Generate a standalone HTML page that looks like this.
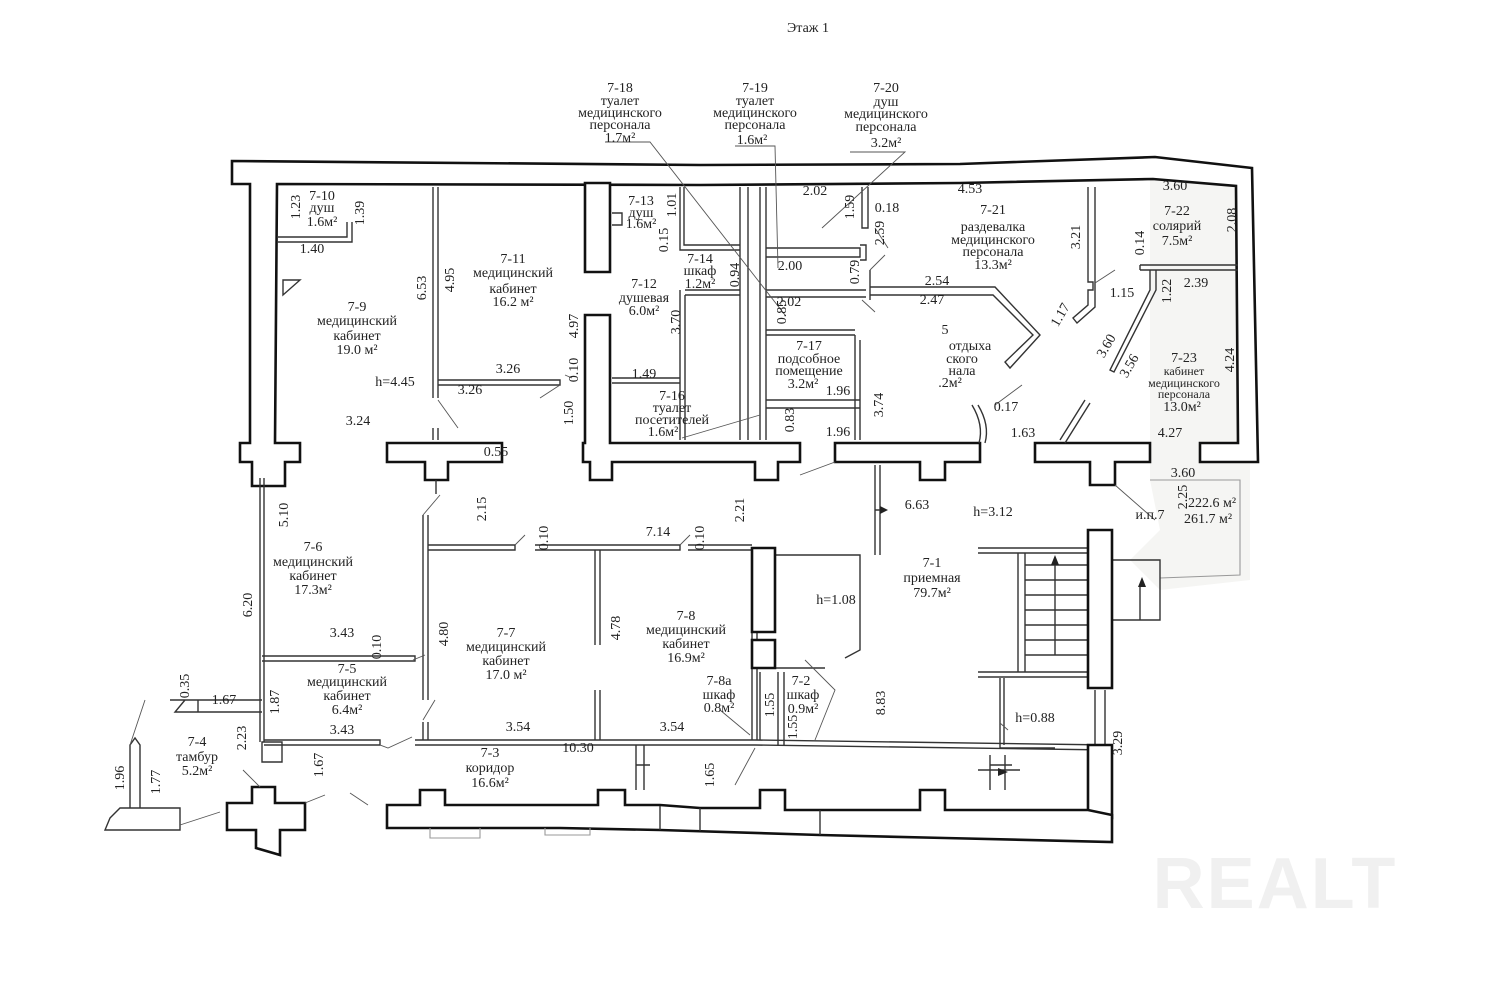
<!DOCTYPE html>
<html><head><meta charset="utf-8"><style>
html,body{margin:0;padding:0;background:#fff}
svg{display:block}
text{font-family:"Liberation Serif","DejaVu Serif",serif;font-size:14px;fill:#222;text-anchor:middle}
.w{fill:#fff;stroke:#111;stroke-width:2.6;stroke-linejoin:miter}
.t{fill:none;stroke:#333;stroke-width:1.4}
.g{fill:none;stroke:#999;stroke-width:1.1}
.l{fill:none;stroke:#555;stroke-width:0.9}
</style></head><body>
<svg width="1500" height="1000" viewBox="0 0 1500 1000" xmlns="http://www.w3.org/2000/svg">
<rect width="1500" height="1000" fill="#fff"/>
<text x="808" y="32" style="font-size:14px">Этаж 1</text>
<path d="M1150,160 L1250,168 L1250,580 L1160,590 L1130,560 L1160,530 L1150,480 Z" fill="#f5f5f3"/>
<path d="M1150,480 L1240,480 L1240,575 L1160,578" class="g"/>
<polygon class="w" points="232,161 700,165 960,164 1155,157 1252,168 1258,462 1200,462 1200,443 1238,443 1236,186 1153,179 960,183 700,185 277,184 275,443 300,443 300,462 285,462 285,486 252,486 252,462 240,462 240,443 250,443 250,184 232,184"/>
<polygon class="w" points="387,443 502,443 502,462 448,462 448,480 425,480 425,462 387,462"/>
<line x1="436" y1="480" x2="436" y2="494" class="t"/>
<polygon class="w" points="585,183 610,183 610,272 585,272"/>
<polygon class="w" points="585,315 610,315 610,443 800,443 800,462 778,462 778,480 755,480 755,462 612,462 612,480 590,480 590,462 583,462 583,443 585,443"/>
<polygon class="w" points="835,443 980,443 980,462 945,462 945,480 920,480 920,462 835,462"/>
<polygon class="w" points="1035,443 1150,443 1150,462 1115,462 1115,485 1090,485 1090,462 1035,462"/>
<g class="t">
<path d="M433,187 V398 M438,187 V398 M438,380 H560 V385 H438"/>
<path d="M433,428 V440 M438,428 V440"/>
<path d="M277,237 H347 V222 M277,242 H352 V222"/>
<path d="M283,280 L300,280 L283,295 Z"/>
<path d="M612,213 L622,213 L622,225 L612,225"/>
<path d="M680,187 V250 H740 M684,187 V245 H740"/>
<path d="M680,290 V440 M685,295 V440 M685,290 H740 M685,295 H740"/>
<path d="M612,378 H680 M612,383 H680"/>
<path d="M740,187 V440 M748,187 V440 M760,187 V440 M766,187 V440"/>
<path d="M766,248 H860 V257 H766 M860,245 H866 V260 H860"/>
<path d="M766,290 H866 M766,297 H866 M766,330 H855 M766,335 H855"/>
<path d="M766,400 H860 M766,408 H860"/>
<path d="M855,335 V440 M860,340 V440"/>
<path d="M862,187 V228 H868 V187"/>
<path d="M870,287 H995 L1040,335 L1010,368 L1005,362 L1033,335 L993,295 H870"/>
<path d="M1088,187 V282 L1093,282 L1093,290 L1088,290 V305 L1073,318 L1077,323 L1095,307 V187"/>
<path d="M1140,265 H1238 M1140,270 H1238 M1140,265 V270"/>
<path d="M1150,270 V290 L1110,370 L1114,372 L1156,290 V270"/>
<path d="M1085,400 L1060,440 M1090,403 L1065,443"/>
<path d="M978,405 Q990,425 985,443 M972,405 Q984,425 979,443"/>
<path d="M870,270 L870,300"/>
</g>
<g class="t">
<path d="M260,478 V742 M264,478 V742"/>
<path d="M262,656 H415 V661 H262"/>
<path d="M264,740 H380 V745 H264"/>
<path d="M262,742 H282 V762 H262 Z"/>
<path d="M423,515 V700 M428,515 V700 M428,545 H515 V550 H428"/>
<path d="M423,722 V740 M428,722 V740"/>
<path d="M535,545 H680 V550 H535 M595,550 V645 M600,550 V645 M595,690 V740 M600,690 V740"/>
<path d="M688,545 H752 M688,550 H752"/>
<path d="M415,740 L755,740 L1110,745 M415,745 L755,745 L1110,750"/>
<path d="M752,550 V740 M757,632 V740"/>
<path d="M755,668 H825 M760,672 V740 M778,672 V745 M784,672 V745"/>
<path d="M978,548 H1088 M978,553 H1088 M978,672 H1088 M978,677 H1088 M1018,553 V672 M1025,553 V672"/>
<path d="M1025,565 H1088 M1025,580 H1088 M1025,595 H1088 M1025,610 H1088 M1025,625 H1088 M1025,640 H1088 M1025,655 H1088"/>
<path d="M1055,655 V560"/>
<path d="M1000,678 V748 H1055 M1004,678 V745"/>
<path d="M990,755 V790 M1005,755 V790 M990,765 H1012 M978,770 H1020"/>
<path d="M760,555 H860 V650 L845,658"/>
<path d="M875,465 V555 M880,465 V555 M875,510 H886"/>
<path d="M1112,560 H1160 V620 H1112 M1140,585 V620"/>
<path d="M1095,690 V745 M1105,690 V745"/>
<path d="M636,745 V790 M644,745 V790 M636,765 H650"/>
<path d="M170,700 H262 M185,700 L175,712 H262 M198,700 V712"/>
</g>
<polygon class="w" points="752,548 775,548 775,632 752,632"/>
<polygon class="w" points="752,640 775,640 775,668 752,668"/>
<polygon class="w" points="1088,530 1112,530 1112,688 1088,688"/>
<polygon class="w" points="1088,745 1112,745 1112,818 1088,818"/>
<polygon fill="#222" points="1055,555 1051,565 1059,565"/>
<polygon fill="#222" points="1142,577 1138,587 1146,587"/>
<polygon fill="#222" points="880,506 888,510 880,514"/>
<polygon fill="#222" points="998,768 1008,772 998,776"/>
<polygon class="w" points="387,805 420,805 420,790 445,790 445,805 598,805 598,790 625,790 625,805 660,805 700,808 760,808 760,790 785,790 785,810 920,810 920,790 945,790 945,810 1088,810 1112,815 1112,842 945,838 820,835 660,830 560,828 387,828"/>
<line x1="660" y1="806" x2="660" y2="830" class="t"/>
<line x1="700" y1="808" x2="700" y2="831" class="t"/>
<line x1="820" y1="810" x2="820" y2="835" class="t"/>
<path d="M430,828 V838 H480 V828 M545,828 V835 H590 V828" class="g"/>
<polygon class="w" points="252,787 275,787 275,803 305,803 305,830 280,830 280,855 256,848 256,830 227,830 227,803 252,803"/>
<path class="t" d="M110,818 L120,808 H180 V830 H105 Z M130,808 V745 L135,738 L140,745 V808"/>
<g class="l">
<path d="M605,142 H650 L785,315"/>
<path d="M735,146 H775 L778,268"/>
<path d="M850,152 H905 L822,228"/>
<path d="M875,228 L888,248 M862,300 L875,312 M870,270 L885,255"/>
<path d="M540,398 L560,385 M438,400 L458,428 M565,375 L572,378"/>
<path d="M682,438 L760,415 M800,475 L835,462 M995,405 L1022,385"/>
<path d="M1115,270 L1095,283 M1115,485 L1155,520"/>
<path d="M423,515 L440,495 M515,545 L525,535 M680,545 L690,535 M425,655 L413,660 M423,720 L435,700 M380,745 L388,748 L412,737"/>
<path d="M720,710 L750,735 M755,748 L735,785 M805,660 L835,690 L815,740"/>
<path d="M1000,723 L1008,730"/>
<path d="M243,770 L260,787 M305,803 L325,795 M350,793 L368,805 M180,825 L220,812 M130,745 L145,700"/>
</g>
<g>
<text x="620" y="92">7-18</text><text x="620" y="105">туалет</text><text x="620" y="117">медицинского</text><text x="620" y="129">персонала</text><text x="620" y="142">1.7м²</text>
<text x="755" y="92">7-19</text><text x="755" y="105">туалет</text><text x="755" y="117">медицинского</text><text x="755" y="129">персонала</text><text x="752" y="144">1.6м²</text>
<text x="886" y="92">7-20</text><text x="886" y="106">душ</text><text x="886" y="118">медицинского</text><text x="886" y="131">персонала</text><text x="886" y="147">3.2м²</text>
<text x="322" y="200">7-10</text><text x="322" y="212">душ</text><text x="322" y="226">1.6м²</text>
<text transform="translate(300,207) rotate(-90)">1.23</text><text transform="translate(364,213) rotate(-90)">1.39</text><text x="312" y="253">1.40</text>
<text x="357" y="311">7-9</text><text x="357" y="325">медицинский</text><text x="357" y="340">кабинет</text><text x="357" y="354">19.0 м²</text>
<text transform="translate(426,288) rotate(-90)">6.53</text><text transform="translate(454,280) rotate(-90)">4.95</text>
<text x="395" y="386">h=4.45</text><text x="358" y="425">3.24</text><text x="470" y="394">3.26</text><text x="508" y="373">3.26</text><text x="496" y="456">0.55</text>
<text x="513" y="263">7-11</text><text x="513" y="277">медицинский</text><text x="513" y="293">кабинет</text><text x="513" y="306">16.2 м²</text>
<text transform="translate(578,326) rotate(-90)">4.97</text><text transform="translate(578,370) rotate(-90)">0.10</text><text transform="translate(573,413) rotate(-90)">1.50</text>
<text x="641" y="205">7-13</text><text x="641" y="217">душ</text><text x="641" y="228">1.6м²</text>
<text transform="translate(676,205) rotate(-90)">1.01</text><text transform="translate(668,240) rotate(-90)">0.15</text>
<text x="700" y="263">7-14</text><text x="700" y="275">шкаф</text><text x="700" y="288">1.2м²</text><text transform="translate(739,275) rotate(-90)">0.94</text>
<text x="644" y="288">7-12</text><text x="644" y="302">душевая</text><text x="644" y="315">6.0м²</text><text transform="translate(680,322) rotate(-90)">3.70</text><text x="644" y="378">1.49</text>
<text x="672" y="400">7-16</text><text x="672" y="412">туалет</text><text x="672" y="424">посетителей</text><text x="663" y="436">1.6м²</text><text transform="translate(794,420) rotate(-90)">0.83</text>
<text x="809" y="350">7-17</text><text x="809" y="363">подсобное</text><text x="809" y="375">помещение</text><text x="803" y="388">3.2м²</text>
<text x="838" y="395">1.96</text><text x="838" y="436">1.96</text><text transform="translate(883,405) rotate(-90)">3.74</text>
<text x="815" y="195">2.02</text><text transform="translate(854,207) rotate(-90)">1.59</text><text x="887" y="212">0.18</text><text transform="translate(884,233) rotate(-90)">2.59</text>
<text x="790" y="270">2.00</text><text transform="translate(859,272) rotate(-90)">0.79</text><text x="789" y="306">2.02</text><text transform="translate(786,312) rotate(-90)">0.85</text>
<text x="970" y="193">4.53</text><text x="993" y="214">7-21</text><text x="993" y="231">раздевалка</text>
<text x="993" y="244">медицинского</text><text x="993" y="256">персонала</text><text x="993" y="269">13.3м²</text>
<text transform="translate(1080,237) rotate(-90)">3.21</text><text x="937" y="285">2.54</text><text x="932" y="304">2.47</text>
<text x="945" y="334">5</text><text x="970" y="350">отдыха</text><text x="962" y="363">ского</text><text x="962" y="375">нала</text><text x="950" y="387">.2м²</text>
<text x="1006" y="411">0.17</text><text x="1023" y="437">1.63</text><text transform="translate(1064,317) rotate(-60)">1.17</text>
<text x="1122" y="297">1.15</text><text transform="translate(1144,243) rotate(-90)">0.14</text><text transform="translate(1171,291) rotate(-90)">1.22</text>
<text x="1175" y="190">3.60</text><text x="1177" y="215">7-22</text><text x="1177" y="230">солярий</text><text x="1177" y="245">7.5м²</text>
<text transform="translate(1236,220) rotate(-90)">2.08</text><text x="1196" y="287">2.39</text>
<text transform="translate(1110,348) rotate(-60)">3.60</text><text transform="translate(1133,368) rotate(-60)">3.56</text>
<text x="1184" y="362">7-23</text><text x="1184" y="375" style="font-size:12px">кабинет</text><text x="1184" y="387" style="font-size:12px">медицинского</text><text x="1184" y="398" style="font-size:12px">персонала</text><text x="1182" y="411">13.0м²</text>
<text transform="translate(1234,360) rotate(-90)">4.24</text><text x="1170" y="437">4.27</text><text x="1183" y="477">3.60</text>
<text x="1150" y="519">и.п.7</text><text x="1212" y="507">222.6 м²</text><text x="1208" y="523">261.7 м²</text>
<text transform="translate(288,515) rotate(-90)">5.10</text><text transform="translate(486,509) rotate(-90)">2.15</text><text transform="translate(548,538) rotate(-90)">0.10</text>
<text x="658" y="536">7.14</text><text transform="translate(704,538) rotate(-90)">0.10</text><text transform="translate(744,510) rotate(-90)">2.21</text>
<text x="917" y="509">6.63</text><text x="993" y="516">h=3.12</text><text transform="translate(1187,497) rotate(-90)">2.25</text>
<text x="313" y="551">7-6</text><text x="313" y="566">медицинский</text><text x="313" y="580">кабинет</text><text x="313" y="594">17.3м²</text>
<text transform="translate(252,605) rotate(-90)">6.20</text><text x="342" y="637">3.43</text><text transform="translate(381,647) rotate(-90)">0.10</text>
<text x="506" y="637">7-7</text><text x="506" y="651">медицинский</text><text x="506" y="665">кабинет</text><text x="506" y="679">17.0 м²</text>
<text transform="translate(448,634) rotate(-90)">4.80</text><text transform="translate(620,628) rotate(-90)">4.78</text>
<text x="686" y="620">7-8</text><text x="686" y="634">медицинский</text><text x="686" y="648">кабинет</text><text x="686" y="662">16.9м²</text>
<text x="932" y="567">7-1</text><text x="932" y="582">приемная</text><text x="932" y="597">79.7м²</text>
<text x="836" y="604">h=1.08</text><text transform="translate(885,703) rotate(-90)">8.83</text><text x="1035" y="722">h=0.88</text><text transform="translate(1122,743) rotate(-90)">3.29</text>
<text x="347" y="673">7-5</text><text x="347" y="686">медицинский</text><text x="347" y="700">кабинет</text><text x="347" y="714">6.4м²</text>
<text transform="translate(279,702) rotate(-90)">1.87</text><text x="342" y="734">3.43</text><text transform="translate(189,686) rotate(-90)">0.35</text><text x="224" y="704">1.67</text>
<text x="719" y="685">7-8а</text><text x="719" y="699">шкаф</text><text x="719" y="712">0.8м²</text><text transform="translate(774,705) rotate(-90)">1.55</text>
<text x="801" y="685">7-2</text><text x="803" y="699">шкаф</text><text x="803" y="713">0.9м²</text><text transform="translate(797,727) rotate(-90)">1.55</text>
<text x="518" y="731">3.54</text><text x="672" y="731">3.54</text><text x="490" y="757">7-3</text><text x="578" y="752">10.30</text>
<text x="490" y="772">коридор</text><text x="490" y="787">16.6м²</text><text transform="translate(714,775) rotate(-90)">1.65</text>
<text x="197" y="746">7-4</text><text x="197" y="761">тамбур</text><text x="197" y="775">5.2м²</text>
<text transform="translate(246,738) rotate(-90)">2.23</text><text transform="translate(323,765) rotate(-90)">1.67</text>
<text transform="translate(124,778) rotate(-90)">1.96</text><text transform="translate(160,782) rotate(-90)">1.77</text>
</g>
<text x="1275" y="908" style="font-family:'Liberation Sans',sans-serif;font-size:72px;font-weight:bold;fill:#f0f0f0;letter-spacing:2px">REALT</text>
</svg>
</body></html>
